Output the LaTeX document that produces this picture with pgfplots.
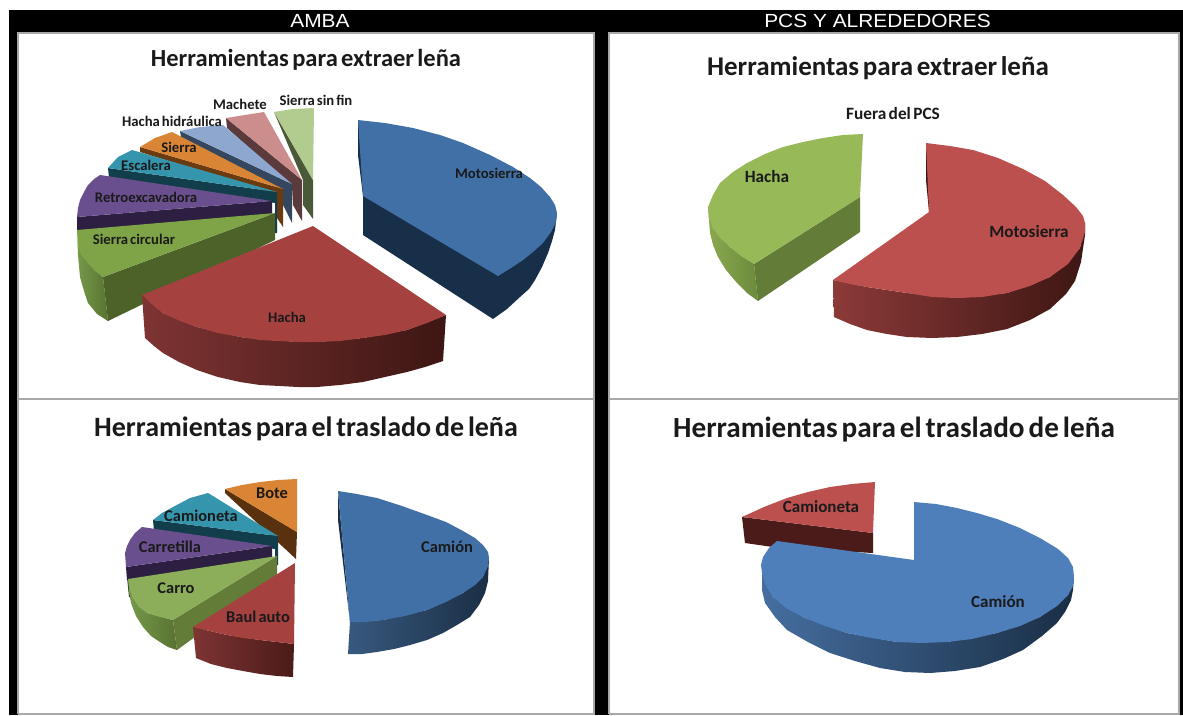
\documentclass[border=0pt]{standalone}
\usepackage{pgfplots}
\pgfplotsset{compat=1.18}
\usepackage{fontspec}
\setmainfont{Carlito}[WordSpace=0.6]
\newfontfamily\hdr{Liberation Sans}
\definecolor{blueT}{HTML}{4170A6}\definecolor{blueD}{HTML}{172F48}
\definecolor{blueL}{HTML}{4F7FBB}\definecolor{blueA}{HTML}{456E9F}\definecolor{blueB}{HTML}{1A2E45}
\definecolor{blueC}{HTML}{38597F}
\definecolor{redT}{HTML}{A5413F}\definecolor{redA}{HTML}{7E3433}\definecolor{redB}{HTML}{3D1613}
\definecolor{redL}{HTML}{BB504E}\definecolor{redC}{HTML}{8C3A38}\definecolor{redD}{HTML}{4A1B18}
\definecolor{grnT}{HTML}{7FA447}\definecolor{grnD}{HTML}{4C6229}\definecolor{grnA}{HTML}{76994A}\definecolor{grnB}{HTML}{587330}
\definecolor{grnL}{HTML}{97B957}\definecolor{grnM}{HTML}{637C38}\definecolor{grnN}{HTML}{8AA94F}\definecolor{grnO}{HTML}{6C8A3C}
\definecolor{purT}{HTML}{6A4F8E}\definecolor{purD}{HTML}{2D1F42}
\definecolor{teaT}{HTML}{3595AD}\definecolor{teaD}{HTML}{123E4B}
\definecolor{oraT}{HTML}{D98535}\definecolor{oraD}{HTML}{6A3A10}
\definecolor{lblT}{HTML}{8EA7CF}\definecolor{lblD}{HTML}{34475F}
\definecolor{pnkT}{HTML}{CC8E8C}\definecolor{pnkD}{HTML}{5A3A3A}
\definecolor{lgrT}{HTML}{B2CB8F}\definecolor{lgrD}{HTML}{4A5A38}
\definecolor{frameG}{HTML}{A8A8A8}
\definecolor{ink}{HTML}{1A1A1A}
\newcommand{\lab}[3]{\node[text=ink,inner sep=0pt,font=\bfseries\fontsize{#3}{#3}\selectfont] at (axis cs:#1) {#2};}
\begin{document}
\begin{tikzpicture}
\begin{axis}[scale only axis,width=1183pt,height=715pt,axis lines=none,
  xmin=0,xmax=1183,ymin=0,ymax=715,y dir=reverse,
  every axis plot/.append style={draw=none,line width=0pt}]
% frame
\addplot[fill=white] coordinates {(0,0)(1183,0)(1183,715)(0,715)} -- cycle;
\addplot[fill=black] coordinates {(9,10)(1183,10)(1183,715)(9,715)} -- cycle;
\addplot[fill=white] coordinates {(18,33)(594,33)(594,714)(18,714)} -- cycle;
\addplot[fill=white] coordinates {(609,33)(1179,33)(1179,714)(609,714)} -- cycle;
\addplot[draw=frameG,line width=1.2pt] coordinates {(18,714)(18,33)(594,33)(594,714)(18,714)};
\addplot[draw=frameG,line width=1.2pt] coordinates {(609,714)(609,33)(1179,33)(1179,714)(609,714)};
\addplot[draw=frameG,line width=1.8pt] coordinates {(18,399)(594,399)};
\addplot[draw=frameG,line width=1.8pt] coordinates {(609,399)(1179,399)};
% PANEL 1 sides and tops, back to front
\addplot[fill=lgrD] coordinates {(274,112)(303,180)(303,205)(313,219)(313,180)} -- cycle;
\addplot[fill=lgrT] coordinates {(274,112)(293,109)(314,108)(313,180)} -- cycle;
\addplot[fill=pnkD] coordinates {(226,118)(227,128)(292,186)(293,205)(302,221)(302,180)} -- cycle;
\addplot[fill=pnkT] coordinates {(226,118)(245,115)(264,112)(302,180)} -- cycle;
\addplot[fill=lblD] coordinates {(180,131)(181,137)(283,191)(283,205)(292,223)(292,184)} -- cycle;
\addplot[fill=lblT] coordinates {(180,131)(200,127)(223,125)(292,184)} -- cycle;
\addplot[fill=oraD] coordinates {(140,147)(140,152)(277,195)(277,218)(283,227)(283,189)} -- cycle;
\addplot[fill=oraT] coordinates {(140,147)(155,138)(172,132)(283,189)} -- cycle;
\addplot[fill=teaD] coordinates {(108,168)(109,178)(275,203)(275,233)(277,233)(277,192)} -- cycle;
\addplot[fill=teaT] coordinates {(108,168)(118,157)(132,150)(277,192)} -- cycle;
\addplot[fill=purD] coordinates {(77,217)(77,232)(272,215)(272,201)} -- cycle;
\addplot[fill=purT] coordinates {(77,217)(78,208)(80,200)(84,192)(88,185)(94,179)(100,175)(272,201)} -- cycle;
\addplot[left color=grnA,right color=grnB] coordinates {(77,230)(78,255)(80,277)(84,291)(88,303)(97,314)(108,321)(103,277)(88,263)(78,247)} -- cycle;
\addplot[fill=grnD] coordinates {(275,213)(275,240)(108,321)(103,277)} -- cycle;
\addplot[fill=grnT] coordinates {(275,213)(77,230)(78,247)(82,256)(88,263)(95,271)(103,277)} -- cycle;
% Hacha AMBA
\addplot[left color=redA,right color=redB] coordinates {(142,295)(163,313)(197,327)(240,337)(280,341)(317,342)(363,338)(407,330)(446,315)(443,361)(425,367)(407,372)(385,377)(363,382)(340,385)(317,387)(298,387)(280,386)(260,385)(240,382)(218,377)(197,370)(179,362)(163,353)(154,346)(145,338)} -- cycle;
\addplot[fill=redT] coordinates {(313,226)(446,315)(427,323)(407,330)(385,335)(363,338)(340,341)(317,342)(298,342)(280,341)(260,340)(240,337)(218,333)(197,327)(180,321)(163,313)(152,304)(142,295)} -- cycle;
% Motosierra AMBA
\addplot[fill=blueD] coordinates {(358,120)(358,155)(363,196)(363,235)(493,319)(507,309)(520,297)(529,289)(535,280)(542,267)(548,253)(552,241)(555,230)(557,213)(498,276)} -- cycle;
\addplot[fill=blueT] coordinates {(358,120)(385,123)(413,128)(440,135)(463,143)(490,155)(513,167)(530,178)(541,187)(550,197)(555,205)(557,213)(556,222)(551,232)(543,243)(533,252)(523,260)(511,268)(498,276)(363,196)} -- cycle;
% PANEL 2
\addplot[fill=oraD!85!black] coordinates {(225,489)(225,493)(296,559)(297,532)} -- cycle;
\addplot[fill=oraT] coordinates {(225,489)(242,485)(260,482)(278,480)(297,479)(297,532)} -- cycle;
\addplot[fill=teaD] coordinates {(153,520)(154,531)(275,549)(275,565)(278,565)(278,536)} -- cycle;
\addplot[fill=teaT] coordinates {(153,520)(162,513)(173,507)(190,498)(208,493)(278,536)} -- cycle;
\addplot[fill=lblD!60!black] coordinates {(127,577)(129,597)(132,597)(132,577)} -- cycle;
\addplot[fill=purD] coordinates {(126,567)(127,580)(272,558)(272,546)} -- cycle;
\addplot[fill=purT] coordinates {(126,567)(125,553)(127,546)(130,540)(135,533)(142,527)(272,546)} -- cycle;
\addplot[left color=grnA,right color=grnB] coordinates {(128,579)(129,592)(131,603)(136,616)(143,627)(151,636)(160,642)(168,647)(177,650)(173,620)(147,613)(133,598)} -- cycle;
\addplot[fill=grnM] coordinates {(173,620)(177,650)(277,577)(277,556)} -- cycle;
\addplot[fill=grnT!90!white] coordinates {(277,556)(128,579)(130,590)(133,598)(139,607)(147,613)(160,617)(173,620)} -- cycle;
\addplot[left color=redA,right color=redD] coordinates {(193,627)(196,658)(211,664)(227,668)(243,671)(260,674)(277,676)(293,677)(294,644)(260,640)(227,635)} -- cycle;
\addplot[fill=redT] coordinates {(295,563)(294,644)(277,642)(260,640)(243,638)(227,635)(210,631)(193,627)} -- cycle;
\addplot[left color=blueC,right color=blueB] coordinates {(350,622)(383,620)(427,610)(463,593)(483,577)(489,558)(488,581)(485,593)(479,605)(470,617)(457,625)(443,633)(427,640)(410,645)(394,649)(377,652)(362,654)(348,654)} -- cycle;
\addplot[fill=blueB] coordinates {(338,491)(338,520)(350,622)} -- cycle;
\addplot[fill=blueT] coordinates {(338,491)(357,494)(377,498)(402,506)(427,515)(446,522)(463,531)(475,538)(483,545)(488,552)(489,558)(488,566)(483,577)(475,585)(463,593)(446,602)(427,610)(405,616)(383,620)(366,622)(350,622)} -- cycle;
% PANEL 3
\addplot[left color=grnN,right color=grnO] coordinates {(708,207)(710,233)(713,245)(718,257)(726,270)(737,283)(747,293)(758,301)(754,264)(730,247)(713,228)} -- cycle;
\addplot[fill=grnM] coordinates {(754,264)(758,301)(860,232)(860,197)} -- cycle;
\addplot[fill=grnL] coordinates {(863,134)(843,135)(823,138)(803,142)(783,147)(765,154)(747,163)(733,172)(720,183)(713,195)(708,207)(709,218)(713,228)(720,238)(730,247)(741,256)(754,264)(860,197)} -- cycle;
\addplot[left color=redC,right color=redB] coordinates {(833,280)(834,317)(850,324)(867,330)(887,334)(907,337)(932,338)(957,337)(982,334)(1007,329)(1030,320)(1050,309)(1066,294)(1075,281)(1081,262)(1085,235)(1085,223)(1080,248)(1050,277)(1007,293)(957,298)(907,293)(867,287)} -- cycle;
\addplot[fill=redB] coordinates {(926,143)(926,180)(929,212)(932,211)} -- cycle;
\addplot[fill=redL] coordinates {(926,143)(950,146)(973,150)(998,158)(1023,169)(1045,181)(1063,195)(1076,207)(1083,216)(1085,223)(1085,232)(1080,248)(1068,264)(1050,277)(1030,286)(1007,293)(982,297)(957,298)(932,297)(907,293)(887,290)(867,287)(850,284)(833,280)(929,212)} -- cycle;
% PANEL 4
\addplot[fill=redD] coordinates {(742,517)(745,543)(780,548)(873,553)(873,533)} -- cycle;
\addplot[fill=redL] coordinates {(875,482)(852,484)(830,487)(808,492)(787,498)(764,507)(742,517)(873,533)} -- cycle;
\addplot[left color=blueA,right color=blueB] coordinates {(1074,577)(1073,590)(1071,600)(1065,612)(1057,623)(1042,636)(1023,650)(1003,659)(980,667)(955,671)(930,673)(905,672)(880,668)(855,661)(830,653)(808,642)(787,630)(775,617)(765,603)(762,590)(762,573)(773,597)(803,617)(847,633)(897,642)(947,642)(997,633)(1040,617)(1068,595)} -- cycle;
\addplot[fill=blueB] coordinates {(914,502)(914,530)(916,560)(918,560)} -- cycle;
\addplot[fill=blueL] coordinates {(914,502)(936,504)(957,508)(977,513)(997,519)(1020,528)(1040,538)(1058,549)(1068,558)(1073,567)(1074,577)(1073,586)(1068,595)(1057,606)(1040,617)(1020,626)(997,633)(972,639)(947,642)(922,643)(897,642)(872,638)(847,633)(825,626)(803,617)(786,608)(773,597)(766,586)(762,573)(761,565)(763,557)(769,548)(777,541)(914,560)} -- cycle;
% header text
\node[text=white,inner sep=0pt,font=\hdr\fontsize{19}{19}\selectfont] at (axis cs:320,21) {\scalebox{1.1}[1]{AMBA}};
\node[text=white,inner sep=0pt,font=\hdr\fontsize{19}{19}\selectfont] at (axis cs:877.5,21) {\scalebox{1.1}[1]{PCS Y ALREDEDORES}};
% titles
\lab{306,59.5}{Herramientas para extraer leña}{24.5}
\lab{878,68}{Herramientas para extraer leña}{27}
\lab{306,429}{Herramientas para el traslado de leña}{28}
\lab{894,430}{Herramientas para el traslado de leña}{29.2}
% slice labels
\lab{489,173}{Motosierra}{14.7}
\lab{287,317}{Hacha}{14.7}
\lab{134,239}{Sierra circular}{14.7}
\lab{146,197}{Retroexcavadora}{14.7}
\lab{146,165}{Escalera}{14.7}
\lab{179,147}{Sierra}{14.7}
\lab{172,121}{Hacha hidráulica}{14.7}
\lab{240,104}{Machete}{14.7}
\lab{316,100}{Sierra sin fin}{14.7}
\lab{447,547}{Camión}{16.4}
\lab{258,617}{Baul auto}{16.4}
\lab{176,588}{Carro}{16.4}
\lab{170,547}{Carretilla}{16.4}
\lab{201,516}{Camioneta}{16.4}
\lab{272,493}{Bote}{16.4}
\lab{1029,232}{Motosierra}{17.2}
\lab{767,177}{Hacha}{17.2}
\lab{893,113}{Fuera del PCS}{17.3}
\lab{821,507}{Camioneta}{17}
\lab{998,602}{Camión}{17}
\end{axis}
\end{tikzpicture}
\end{document}
